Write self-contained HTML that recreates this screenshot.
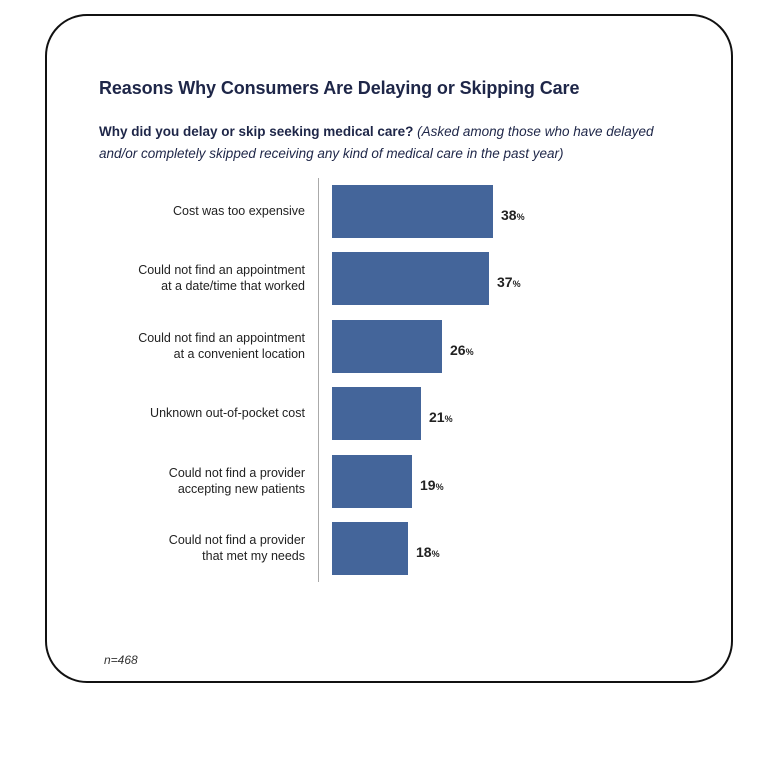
<!DOCTYPE html>
<html><head><style>
body{margin:0;width:768px;height:768px;background:#fff;position:relative;font-family:"Liberation Sans",sans-serif;overflow:hidden}
.frame{position:absolute;left:45px;top:14px;width:688px;height:669px;border:2px solid #111;border-radius:42px;box-sizing:border-box}
.t{position:absolute;left:99px;top:78px;font-size:18px;font-weight:bold;color:#1e2648;white-space:nowrap;letter-spacing:-0.1px}
.s{position:absolute;left:99px;top:121px;font-size:13.5px;color:#1e2648;line-height:22px;white-space:nowrap}
.s i{font-weight:normal}
.axis{position:absolute;left:318px;top:178px;width:1px;height:404px;background:#aaa}
.bar{position:absolute;left:332px;height:53px;background:#44659a}
.lab{position:absolute;right:463px;font-size:12.5px;color:#222;text-align:right;line-height:16px;white-space:nowrap}
.v{position:absolute;font-size:14px;font-weight:bold;color:#222}
.v small{font-size:9px}
.n{position:absolute;left:104px;top:653px;font-size:12px;font-style:italic;color:#333}
</style></head><body>
<div class="frame"></div>
<div class="t">Reasons Why Consumers Are Delaying or Skipping Care</div>
<div class="s"><b>Why did you delay or skip seeking medical care?</b> <i>(Asked among those who have delayed</i><br><i>and/or completely skipped receiving any kind of medical care in the past year)</i></div>
<div class="axis"></div>
<div class="bar" style="top:185px;width:161px"></div>
<div class="bar" style="top:252px;width:157px"></div>
<div class="bar" style="top:320px;width:110px"></div>
<div class="bar" style="top:387px;width:89px"></div>
<div class="bar" style="top:455px;width:80px"></div>
<div class="bar" style="top:522px;width:76px"></div>
<div class="lab" style="top:203px">Cost was too expensive</div>
<div class="lab" style="top:262px">Could not find an appointment<br>at a date/time that worked</div>
<div class="lab" style="top:330px">Could not find an appointment<br>at a convenient location</div>
<div class="lab" style="top:405px">Unknown out-of-pocket cost</div>
<div class="lab" style="top:465px">Could not find a provider<br>accepting new patients</div>
<div class="lab" style="top:532px">Could not find a provider<br>that met my needs</div>
<div class="v" style="left:501px;top:207px">38<small>%</small></div>
<div class="v" style="left:497px;top:274px">37<small>%</small></div>
<div class="v" style="left:450px;top:342px">26<small>%</small></div>
<div class="v" style="left:429px;top:409px">21<small>%</small></div>
<div class="v" style="left:420px;top:477px">19<small>%</small></div>
<div class="v" style="left:416px;top:544px">18<small>%</small></div>
<div class="n">n=468</div>
</body></html>
